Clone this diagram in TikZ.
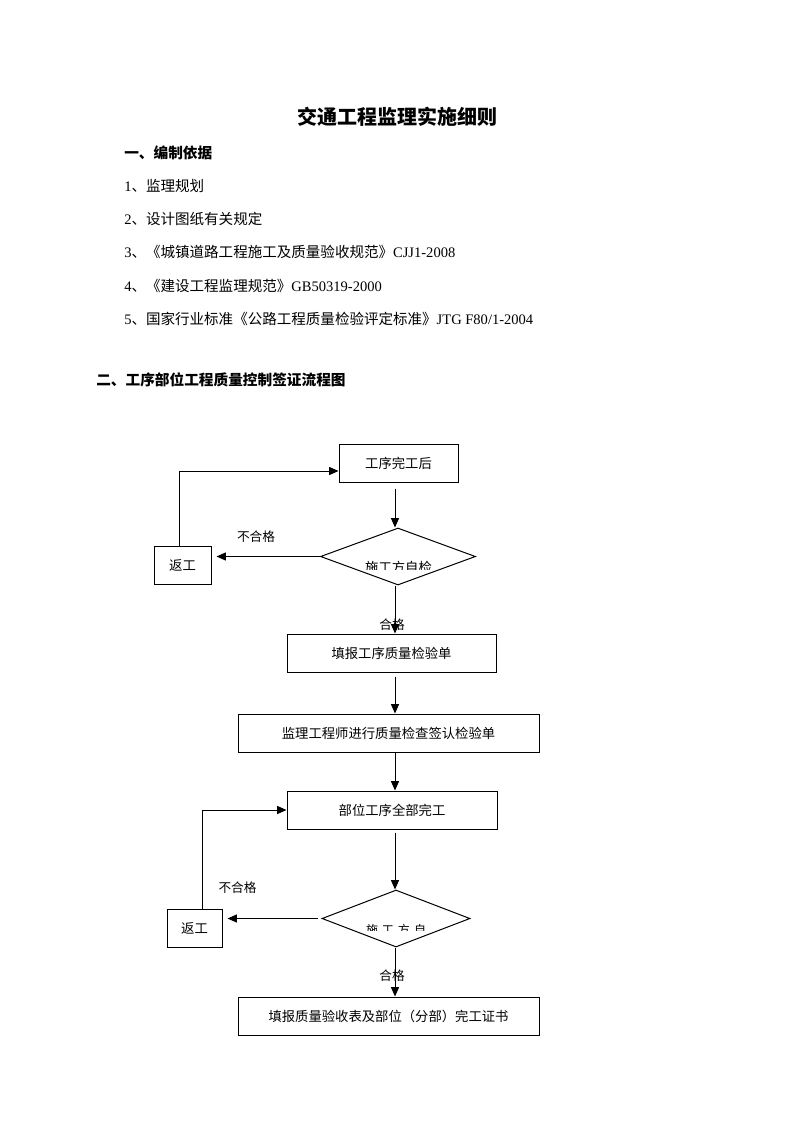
\documentclass[tikz,border=0pt]{standalone}
\usepackage{fontspec}
\setmainfont{Liberation Serif}
\newfontfamily\cjk{Noto Sans CJK SC}
\usetikzlibrary{arrows.meta,shapes.geometric}
\newcommand{\zh}[1]{{\cjk #1}}
\begin{document}
\begin{tikzpicture}[x=0.75pt,y=-0.75pt,
  box/.style={draw, line width=0.75pt, minimum height=28.5pt, inner sep=0pt, font=\cjk\fontsize{10}{12}\selectfont},
  dia/.style={draw, diamond, line width=0.75pt, inner sep=0pt, minimum height=42.75pt},
  arr/.style={-{Triangle[length=7pt,width=6pt]}, line width=0.75pt},
  lab/.style={inner sep=0pt, font=\cjk\fontsize{9.5}{11}\selectfont},
  body/.style={anchor=west, inner sep=0pt, font=\fontsize{10.9}{13}\selectfont},
  head/.style={anchor=west, inner sep=0pt, font=\cjk\bfseries\fontsize{11}{13}\selectfont},
  dtext/.style={inner sep=0pt, font=\cjk\fontsize{10}{12}\selectfont}]
\useasboundingbox (0,0) rectangle (793,1122);
% texts
\node[inner sep=0pt, font=\cjk\bfseries\fontsize{15}{18}\selectfont] (title) at (397,117) {交通工程监理实施细则};
\node[head] (h1) at (124,153) {一、编制依据};
\node[body] (i1) at (124,186) {1\zh{、监理规划}};
\node[body] (i2) at (124,219) {2\zh{、设计图纸有关规定}};
\node[body] (i3) at (124,252) {3\zh{、《城镇道路工程施工及质量验收规范》}CJJ1-2008};
\node[body] (i4) at (124,286) {4\zh{、《建设工程监理规范》}GB50319-2000};
\node[body] (i5) at (124,319) {5\zh{、国家行业标准《公路工程质量检验评定标准》}JTG F80/1-2004};
\node[head] (h2) at (96,380) {二、工序部位工程质量控制签证流程图};
% flowchart
\coordinate (cx) at (395,0);
\coordinate (l1) at (179,0);
\coordinate (l2) at (202,0);
\node[box, minimum width=89.25pt] (b1) at (398.5,463) {工序完工后};
\node[dia, minimum width=116.25pt] (d1) at (398,556.5) {};
\node[box, minimum width=42.75pt] (r1) at (182.5,565) {返工};
\node[box, minimum width=156.75pt] (b2) at (391.5,653) {填报工序质量检验单};
\node[box, minimum width=225.75pt] (b3) at (388.5,733) {监理工程师进行质量检查签认检验单};
\node[box, minimum width=157.5pt] (b4) at (392,810) {部位工序全部完工};
\node[dia, minimum width=111pt] (d2) at (396,918.5) {};
\node[box, minimum width=41.25pt] (r2) at (194.5,928) {返工};
\node[box, minimum width=225.75pt] (b5) at (388.5,1016) {填报质量验收表及部位（分部）完工证书};
% clipped diamond texts
\begin{scope}
\clip (300,540) rectangle (500,569.5);
\node[dtext] (d1t) at (398.5,567.5) {施工方自检};
\end{scope}
\begin{scope}
\clip (300,900) rectangle (500,930.5);
\node[dtext, font=\cjk\fontsize{9}{11}\selectfont] (d2t) at (396,929.5) {施\hspace{3pt}工\hspace{3pt}方\hspace{3pt}自};
\end{scope}
% connectors
\draw[arr, shorten <=4.5pt] (b1.south -| cx) -- (d1.north -| cx);
\draw[arr, shorten >=3.75pt] (d1.west) -- (d1.west -| r1.east);
\draw[arr] (r1.north -| l1) |- ([yshift=-6pt]b1.west);
\draw[arr] (d1.south -| cx) -- (b2.north -| cx);
\draw[arr, shorten <=3pt] (b2.south -| cx) -- (b3.north -| cx);
\draw[arr] (b3.south -| cx) -- (b4.north -| cx);
\draw[arr, shorten <=2.25pt] (b4.south -| cx) -- (d2.north -| cx);
\draw[arr, shorten <=3pt, shorten >=3.75pt] (d2.west) -- (d2.west -| r2.east);
\draw[arr] (r2.north -| l2) |- (b4.west);
\draw[arr] (d2.south -| cx) -- (b5.north -| cx);
% labels
\node[lab] (n1) at (256,537) {不合格};
\node[lab] (y1) at (392,625) {合格};
\node[lab] (n2) at (237.5,888) {不合格};
\node[lab] (y2) at (392,976) {合格};
\end{tikzpicture}
\end{document}
